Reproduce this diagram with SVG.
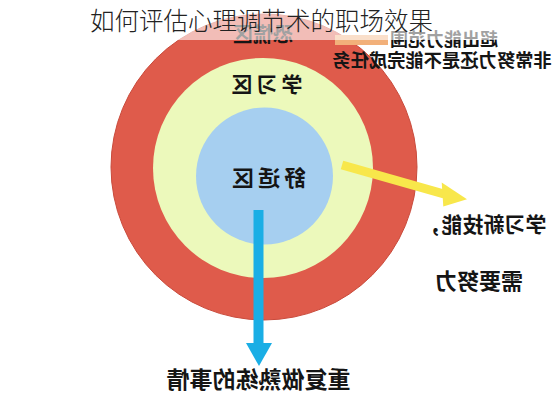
<svg xmlns="http://www.w3.org/2000/svg" width="553" height="400" viewBox="0 0 553 400">
<style>
.lbl{font-family:"Noto Sans CJK SC","Noto Sans",sans-serif;font-weight:700;fill:#151515;text-anchor:middle}
.title{font-family:"Noto Sans CJK SC","Noto Sans",sans-serif;font-weight:300;fill:#222;text-anchor:middle}
</style>
<rect width="553" height="400" fill="#ffffff"/>
<g id="zone-panic">
<circle cx="264" cy="167" r="153" fill="#df5b4b" stroke="#c94a3b" stroke-width="1"/>
</g>
<g id="zone-learning">
<circle cx="263" cy="168" r="110" fill="#ecf9bb"/>
</g>
<g id="zone-comfort">
<circle cx="264.5" cy="176" r="68.5" fill="#a6cff0"/>
</g>
<g id="connectors">
<rect x="335" y="35" width="53" height="10" fill="#f2b07a"/>
<line x1="342" y1="165" x2="444" y2="194" stroke="#f8e74b" stroke-width="9"/>
<polygon points="441.7,182.5 467,199.3 443.3,206.5" fill="#f8e74b"/>
<rect x="253.5" y="210" width="10" height="136" fill="#1aaee5"/>
<polygon points="246,343 272,343 259,366" fill="#1aaee5"/>
</g>
<g id="label-panic">
<text class="lbl" font-size="20" transform="translate(263 41.5) scale(-1 1)">恐慌区</text>
</g>
<g id="label-stretch">
<text class="lbl" font-size="18" transform="translate(444 46) scale(-1 1)">超出能力范围</text>
</g>
<rect x="0" y="0" width="553" height="40" fill="#ffffff" fill-opacity="0.6"/>
<g id="title">
<text class="title" x="261.5" y="30" font-size="24.5">如何评估心理调节术的职场效果</text>
</g>
<g id="label-hard">
<text class="lbl" font-size="18.3" transform="translate(442 66.5) scale(-1 1)">非常努力还是不能完成任务</text>
</g>
<g id="label-learning">
<text class="lbl" font-size="21" letter-spacing="4" transform="translate(265 92) scale(-1 1)">学习区</text>
</g>
<g id="label-comfort">
<text class="lbl" font-size="22" letter-spacing="4" transform="translate(267 186) scale(-1 1)">舒适区</text>
</g>
<g id="label-newskill">
<text class="lbl" font-size="21" transform="translate(483.5 231.5) scale(-1 1)">学习新技能，</text>
<text class="lbl" font-size="22" transform="translate(479 289) scale(-1 1)">需要努力</text>
</g>
<g id="label-repeat">
<text class="lbl" font-size="23" transform="translate(258.5 387.5) scale(-1 1)">重复做熟练的事情</text>
</g>
</svg>
